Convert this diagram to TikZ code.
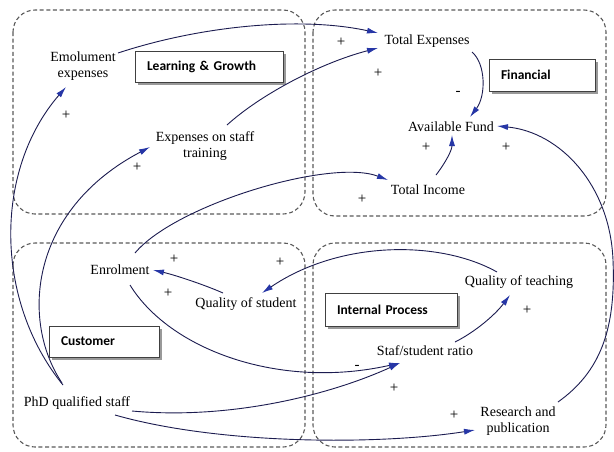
\documentclass[tikz,border=0pt]{standalone}
\usepackage{fontspec}
\setmainfont{Liberation Serif}
\newfontfamily\labfont{Carlito}
\usetikzlibrary{arrows.meta,calc,shadows}
\definecolor{navy}{HTML}{1C1C50}
\definecolor{tipblue}{HTML}{2636A6}
\definecolor{dashgray}{HTML}{5A5A5A}
\tikzset{
  region/.style={draw=dashgray, line width=1.1pt, dash pattern=on 4pt off 2.6pt, rounded corners=22pt},
  var/.style={inner sep=1pt, font=\fontsize{14}{16.5}\selectfont, align=center},
  sign/.style={inner sep=0pt, font=\fontsize{15}{16}\selectfont},
  labbox/.style={draw=black!75, fill=white, line width=0.9pt, inner xsep=12pt, inner ysep=0pt,
     align=left, font=\labfont\bfseries\fontsize{13.5}{15}\selectfont,
     drop shadow={shadow xshift=3pt, shadow yshift=-3pt, fill=black!40, opacity=1}},
  link/.style={draw=navy, line width=0.9pt, -{Latex[length=11pt,width=6pt,color=tipblue]}},
}
\begin{document}
\begin{tikzpicture}[x=1pt,y=-1pt]
\useasboundingbox (0,0) rectangle (614,451);
\fill[white] (0,0) rectangle (614,451);
% regions
\draw[region] (13,10) rectangle (305,214);
\draw[region] (313,10) rectangle (606,216);
\draw[region] (13,243) rectangle (305,447);
\draw[region] (313,243) rectangle (606,447);
% perspective labels
\node[labbox, text width=124pt, minimum height=31pt] (lg) at (209,66.5) {Learning \& Growth};
\node[labbox, text width=82pt, minimum height=32pt] (fin) at (542,75) {Financial};
\node[labbox, text width=86pt, minimum height=31pt] (cus) at (104,341.5) {Customer};
\node[labbox, text width=108pt, minimum height=33pt] (ip) at (391,309.5) {Internal Process};
% variables
\node[var] (emol) at (83,66) {Emolument\\expenses};
\node[var] (train) at (205,146) {Expenses on staff\\training};
\node[var] (totexp) at (427,41) {Total Expenses};
\node[var] (fund) at (451,127) {Available Fund};
\node[var] (income) at (428,190) {Total Income};
\node[var] (enrol) at (120,270) {Enrolment};
\node[var] (qstud) at (246,304) {Quality of student};
\node[var] (phd) at (77,403) {PhD qualified staff};
\node[var] (qteach) at (519,282) {Quality of teaching};
\node[var] (ratio) at (425,351) {Staf/student ratio};
\node[var] (research) at (518,421) {Research and\\publication};
% links
\draw[link] ($(emol)+(35,-13)$) .. controls (200,26) and (300,16) .. ($(totexp)+(-49,-8)$);
\draw[link] ($(train)+(22,-21)$) .. controls (260,95) and (320,63) .. ($(totexp)+(-49,7)$);
\draw[link] ($(totexp)+(45,11)$) .. controls (486,64) and (486,96) .. ($(fund)+(19,-10)$);
\draw[link] ($(income)+(8,-15)$) .. controls (446,162) and (452,150) .. ($(fund)+(1,8)$);
\draw[link] ($(research)+(40,-19)$) .. controls (600,372) and (616,330) .. (613,260)
   .. controls (610,185) and (560,132) .. ($(fund)+(46,-1)$);
\draw[link] ($(enrol)+(15,-17)$) .. controls (175,205) and (330,158) .. ($(income)+(-40,-10)$);
\draw[link] ($(qstud)+(-23,-11)$) .. controls (205,285) and (175,275) .. ($(enrol)+(33,0)$);
\draw[link] ($(enrol)+(10,15)$) .. controls (170,350) and (280,390) .. ($(ratio)+(-25,12)$);
\draw[link] ($(phd)+(55,8)$) .. controls (230,420) and (330,395) .. ($(ratio)+(-25,12)$);
\draw[link] ($(phd)+(38,12)$) .. controls (220,445) and (380,445) .. ($(research)+(-43,9)$);
\draw[link] ($(phd)+(-14,-18)$) .. controls (-6,300) and (-6,170) .. ($(emol)+(-17,21)$);
\draw[link] ($(phd)+(-15,-20)$) .. controls (20,320) and (30,210) .. ($(train)+(-55,1)$);
\draw[link] ($(ratio)+(30,-9)$) .. controls (475,332) and (495,315) .. ($(qteach)+(-9,13)$);
\draw[link] ($(qteach)+(-22,-10)$) .. controls (440,240) and (340,240) .. ($(qstud)+(16,-11)$);
% signs
\node[sign] (s1) at (341,42) {+};
\node[sign] (s2) at (378,73) {+};
\node[sign] (s3) at (458,93) {-};
\node[sign] (s4) at (426,147) {+};
\node[sign] (s5) at (506,147) {+};
\node[sign] (s6) at (362,199) {+};
\node[sign] (s7) at (174,259) {+};
\node[sign] (s8) at (168,293) {+};
\node[sign] (s9) at (280,262) {+};
\node[sign] (s10) at (357,367) {-};
\node[sign] (s11) at (394,388) {+};
\node[sign] (s12) at (454,415) {+};
\node[sign] (s13) at (66,115) {+};
\node[sign] (s14) at (137,167) {+};
\node[sign] (s15) at (527,310) {+};
\end{tikzpicture}
\end{document}
